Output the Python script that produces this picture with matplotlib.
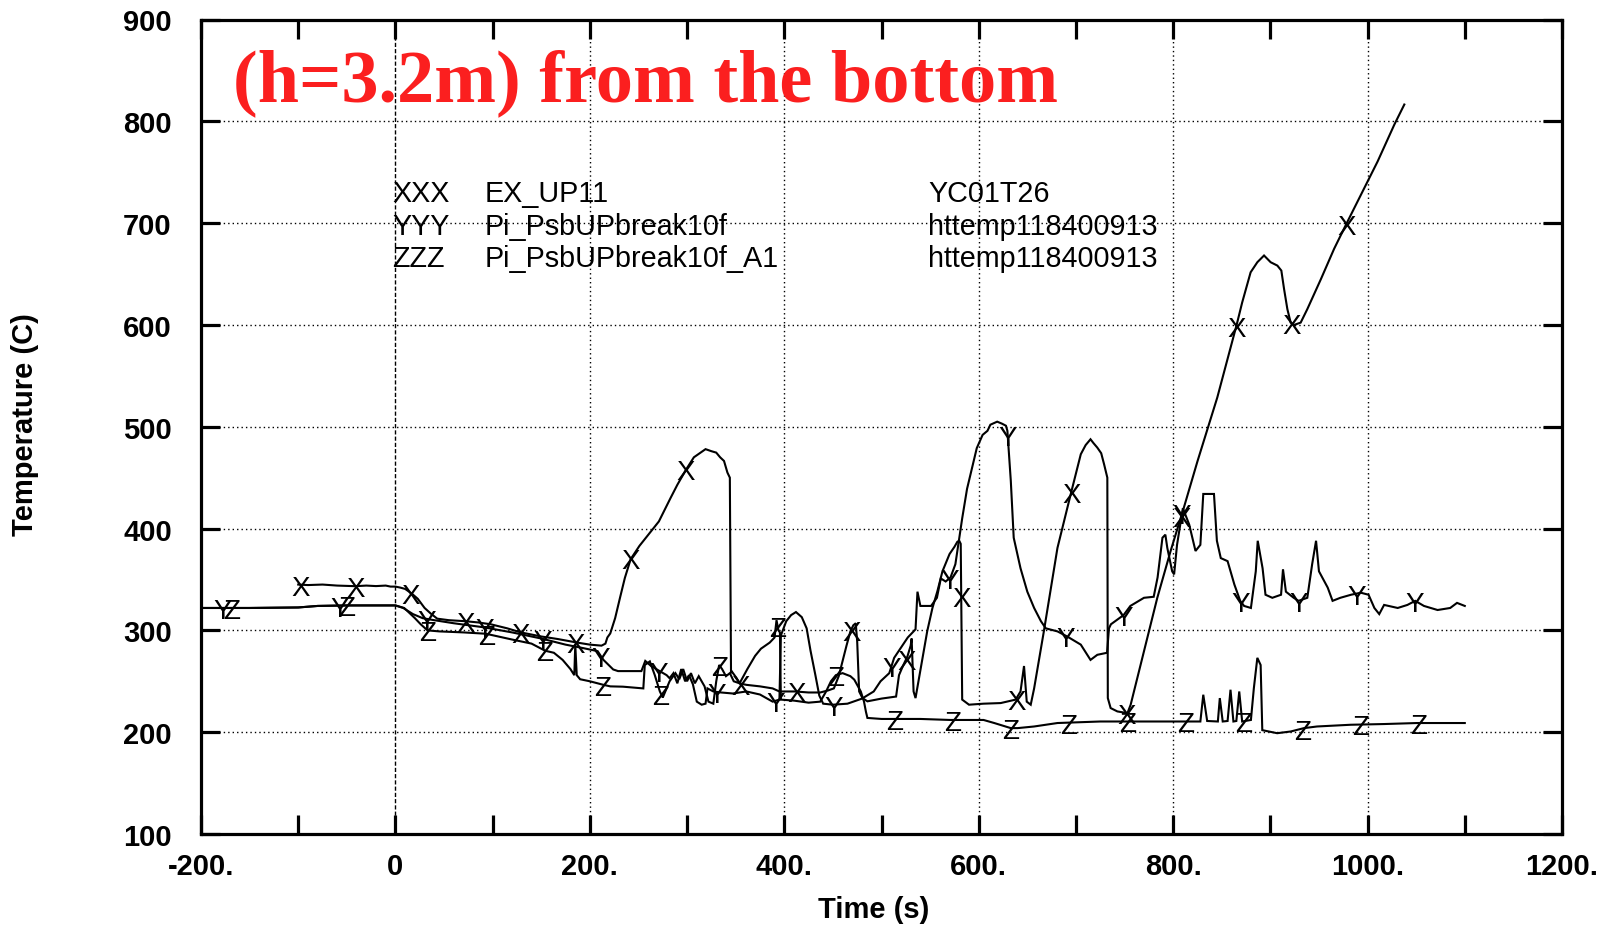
import numpy as np
import matplotlib
matplotlib.use('Agg')
import matplotlib.pyplot as plt
from matplotlib.ticker import MultipleLocator, FuncFormatter
import matplotlib.transforms as mtransforms

# ---------------- data (time [s], temperature [C]) ----------------
exp_points = [(-100, 345), (-90, 344.5), (-75, 345), (-60, 344), (-41, 343.4), (-30, 344), (-20, 343.5),
              (-10, 344), (-5, 343), (0, 343), (5, 342), (10, 340.7), (17, 336), (23, 331), (30, 322),
              (36.5, 316.4), (43, 311.5), (55, 310), (72, 309), (85, 307.8), (98, 306), (115, 302),
              (129, 298), (150, 294), (167, 291.5), (187, 288), (200, 286), (212, 285), (216, 287),
              (218, 293), (221, 297), (226, 312), (231, 332), (236, 351.5), (242, 370), (251, 383),
              (263, 397.5), (271, 407), (283, 430), (290, 443), (299, 458), (307, 470), (313, 474),
              (319, 478), (325, 476), (330, 474.6), (334, 470), (338, 466.4), (341.5, 455), (344, 450),
              (345.2, 258), (346, 259.7), (351, 253), (354, 248), (361, 246.5), (375, 245), (388, 243),
              (395, 240), (411, 240), (425, 239), (437, 239), (445, 241), (451, 243), (456, 255),
              (460, 270), (464, 285), (468, 299), (471, 305), (473.5, 307), (475, 289), (477, 240),
              (480.4, 233.5), (485.5, 230.3), (500, 233), (515, 235), (518, 256), (522, 265),
              (526.7, 274.5), (530, 285), (531, 292), (533, 240), (535, 233.5), (540.4, 263), (547, 299),
              (552.4, 322), (557.5, 338.5), (562.7, 358), (570, 375), (575, 382), (578, 387), (580, 388),
              (581.5, 385), (583, 232), (590, 227), (605, 228), (622.6, 228.6), (638, 232), (643, 240),
              (646.6, 265), (649.4, 230), (653.5, 227), (657, 243), (667, 299), (681, 381), (694.6, 433.6),
              (705, 473), (710, 482), (715, 487.7), (718, 484), (722, 479.5), (726, 474), (729, 463),
              (732.3, 450), (732.8, 233.5), (735.7, 223.7), (742.6, 220.4), (753, 218.7), (756.3, 227),
              (770, 279.4), (783.7, 332), (797.4, 378), (811, 420.5), (825, 466), (845.4, 528.7),
              (859, 577.6), (865.3, 600), (871, 622), (879.7, 651.7), (886.6, 661.6), (893.5, 668.2),
              (900.3, 661.6), (907.2, 658.3), (911.3, 653.4), (914.1, 635.3), (917.5, 615.5),
              (920.9, 602.3), (924.4, 600), (931.2, 602.3), (938, 615.5), (952, 645), (965.6, 674.8),
              (978.3, 699.5), (993, 727.5), (1010.3, 760.5), (1027.5, 796.7), (1037.8, 816.5)]

sim_points = [(-200, 322), (-150, 322), (-100, 322.5), (-80, 324), (-50, 324.5), (0, 324.5), (8, 322),
              (18, 316), (28, 312), (40, 310), (60, 307), (91, 303), (120, 298), (150, 292), (175, 286),
              (193, 282.6), (208, 279.6), (214, 271), (224, 261.6), (229, 260), (253, 260), (257, 270),
              (263, 265), (270, 261), (279, 256), (282, 253), (286, 258), (290, 248), (294, 262),
              (298, 250), (302, 256), (306, 247), (310, 230), (315, 227), (319, 228), (321, 243),
              (327, 240), (335, 239), (347, 238), (361, 240), (375, 237), (388, 230), (395, 232),
              (396.5, 295), (402, 309), (407, 315), (412, 318), (418, 313), (423, 302), (427, 280),
              (432, 256), (436, 236), (440, 228), (450, 227), (465, 228), (480, 233), (492, 240),
              (499, 250), (508, 258), (513, 273), (520, 283), (527, 293), (535, 301), (537, 338),
              (540, 324), (551, 324), (557, 332), (561, 351), (566, 348), (571, 352), (576, 365),
              (578, 378), (583, 410), (588, 439), (598, 479), (604, 492), (609, 496), (612, 502),
              (619, 505), (624, 503), (628, 501), (629.5, 496), (633, 447), (636, 391), (643, 361),
              (650, 338), (657, 322), (664, 309), (669, 302), (681, 299), (691, 294), (705, 286),
              (715, 271), (722, 276), (732, 278), (734, 302), (736, 306), (749, 315), (756, 324),
              (770, 332), (780, 333), (784, 352), (789, 391), (792, 394), (794, 381), (799, 358),
              (801, 355), (804, 384), (810, 420), (816.5, 404), (823, 378), (828, 384), (831, 434),
              (842, 434), (845, 388), (849, 371), (856, 368), (863, 345), (869, 329), (873, 324),
              (880, 322), (885, 358), (887, 388), (892, 361), (895, 335), (902, 332), (911, 335),
              (913, 360), (916, 338), (924, 332), (929, 329), (938, 332), (943, 365), (947, 388),
              (950, 358), (959, 342), (964, 329), (972, 332), (983, 335), (993, 337), (1001, 335),
              (1007, 322), (1012, 316), (1017, 325), (1031, 322), (1041, 325), (1049, 329), (1058, 324),
              (1072, 320), (1085, 322), (1092, 327), (1100, 324)]

simA1_points = [(-200, 322), (-150, 322), (-100, 322.5), (-80, 324), (-50, 324.5), (0, 324.5), (9, 322),
                (20, 312), (26, 306), (33, 300), (45, 299), (70, 298), (93, 296.7), (120, 291), (140, 287),
                (154, 280), (163, 278), (172, 271), (180, 262), (184, 256), (185, 286), (186.5, 256),
                (190, 252), (200, 250), (214, 246.5), (221, 245), (234, 244.7), (255, 243), (256.5, 266),
                (261.7, 269.5), (266.8, 256), (272, 240), (275, 234), (282, 250), (288, 258), (292, 252),
                (296, 262), (300, 250), (304, 258), (308, 248), (312, 255), (318, 245), (322, 230),
                (327, 228), (330, 250), (333, 266), (336, 262), (340, 255), (344, 258), (348, 250),
                (354, 248), (362, 262), (370, 275), (376, 282), (385, 288), (390, 293), (392, 310),
                (394, 300), (395.5, 298), (396.5, 232), (410, 231), (425, 229), (437, 230), (443, 240),
                (448, 250), (453, 256), (460, 258), (468, 255), (472, 251.6), (478.7, 240), (482, 230),
                (484, 220), (485.5, 214), (500, 213), (540, 213), (571, 212), (605, 212), (616, 209),
                (633, 204), (640, 204), (657, 205.6), (681, 209), (725, 210.5), (828, 210.5), (831, 236.8),
                (835, 211), (846, 210.5), (848, 233.5), (851, 210.5), (856, 211), (859, 241.7),
                (862, 210.5), (865, 211), (868, 240), (871, 210.5), (880, 212), (883, 243), (886.6, 273),
                (890, 266), (891.7, 202), (907, 199), (921, 200.7), (934.6, 204), (948, 205.6),
                (982.6, 207.3), (1017, 208), (1051, 209), (1100, 209)]

series_symbols = ['X', 'Y', 'Z']
legend_codes = ['XXX', 'YYY', 'ZZZ']
legend_names = ['EX_UP11', 'Pi_PsbUPbreak10f', 'Pi_PsbUPbreak10f_A1']
legend_ids = ['YC01T26', 'httemp118400913', 'httemp118400913']
title_text = '(h=3.2m) from the bottom'
x_label = 'Time (s)'
y_label = 'Temperature (C)'
x_label_values = [-200, 0, 200, 400, 600, 800, 1000, 1200]
x_label_texts = ['-200.', '0', '200.', '400.', '600.', '800.', '1000.', '1200.']

# ---------------- style ----------------
plt.rcParams['font.family'] = ['Liberation Sans', 'DejaVu Sans']
plt.rcParams['font.weight'] = 'bold'

# symbol sampling (time of each symbol along a curve)
symbol_times = [
    np.arange(-97.2, 1000, 56.6),
    np.r_[[-177.7, -57.7], np.arange(31.8, 1100, 59.8)],
    np.r_[[-169.0, -49.9], np.arange(33.5, 1100, 59.95)],
]

fig = plt.figure(figsize=(16.04, 9.28), dpi=100)
L, R, T, B = 201, 1562, 20.5, 835
ax = fig.add_axes([L / 1604, 1 - B / 928, (R - L) / 1604, (B - T) / 928])
ax.set_xlim(-200, 1200)
ax.set_ylim(100, 900)

for s in ax.spines.values():
    s.set_linewidth(2.3)
    s.set_zorder(5)

ax.xaxis.set_major_locator(MultipleLocator(100))
ax.yaxis.set_major_locator(MultipleLocator(100))
lab_map = dict(zip(x_label_values, x_label_texts))
ax.xaxis.set_major_formatter(FuncFormatter(lambda v, p: lab_map.get(int(round(v)), '')))
ax.yaxis.set_major_formatter(FuncFormatter(lambda v, p: '%d' % int(round(v))))
ax.tick_params(axis='both', which='major', direction='in', length=13.5, width=2.3,
               top=True, right=True, labelsize=21)
ax.tick_params(axis='x', pad=13)
ax.tick_params(axis='y', pad=21)

# grid
dot = (0, (1, 2.2))
for gx in x_label_values[2:-1]:
    ax.axvline(gx, color='k', lw=1.0, ls=dot, zorder=0.5)
for gy in range(200, 900, 100):
    ax.axhline(gy, color='k', lw=1.0, ls=dot, zorder=0.5)
ax.axvline(0, color='k', lw=1.0, ls=(0, (3, 1.5)), zorder=0.6)

# curves + symbols
cap_off = mtransforms.offset_copy(ax.transData, fig=fig, x=0, y=-0.716 * 20 / 2, units='points')
for pts, sym, times in zip([exp_points, sim_points, simA1_points], series_symbols, symbol_times):
    t = np.array([p[0] for p in pts], dtype=float)
    v = np.array([p[1] for p in pts], dtype=float)
    ax.plot(t, v, color='k', lw=1.5, zorder=2, solid_joinstyle='miter')
    for tm in times:
        if t[0] <= tm <= t[-1]:
            ax.text(tm, np.interp(tm, t, v), sym, transform=cap_off, ha='center', va='baseline',
                    fontsize=20, fontweight='normal', zorder=3)

# legend-like text block
rows_y = [0.7775, 0.7366, 0.6977]
for yy, c, n, i in zip(rows_y, legend_codes, legend_names, legend_ids):
    ax.text(0.1403, yy, c, transform=ax.transAxes, fontsize=20.7, fontweight='normal', va='baseline')
    ax.text(0.2087, yy, n, transform=ax.transAxes, fontsize=20.7, fontweight='normal', va='baseline')
    ax.text(0.5342, yy, i, transform=ax.transAxes, fontsize=20.7, fontweight='normal', va='baseline')

# title inside the plot
ax.text(0.0235, 0.9009, title_text, transform=ax.transAxes, color='#fb1f1f', fontsize=53.5,
        family=['Liberation Serif', 'DejaVu Serif'], fontweight='bold', va='baseline', zorder=4)

fig.text(873.6 / 1604, 1 - 910 / 928, x_label, ha='center', va='center', fontsize=21, fontweight='bold')
fig.text(25 / 1604, 1 - 424.6 / 928, y_label, ha='center', va='center', rotation=90,
         fontsize=21, fontweight='bold')

fig.savefig('out.png', dpi=100)
